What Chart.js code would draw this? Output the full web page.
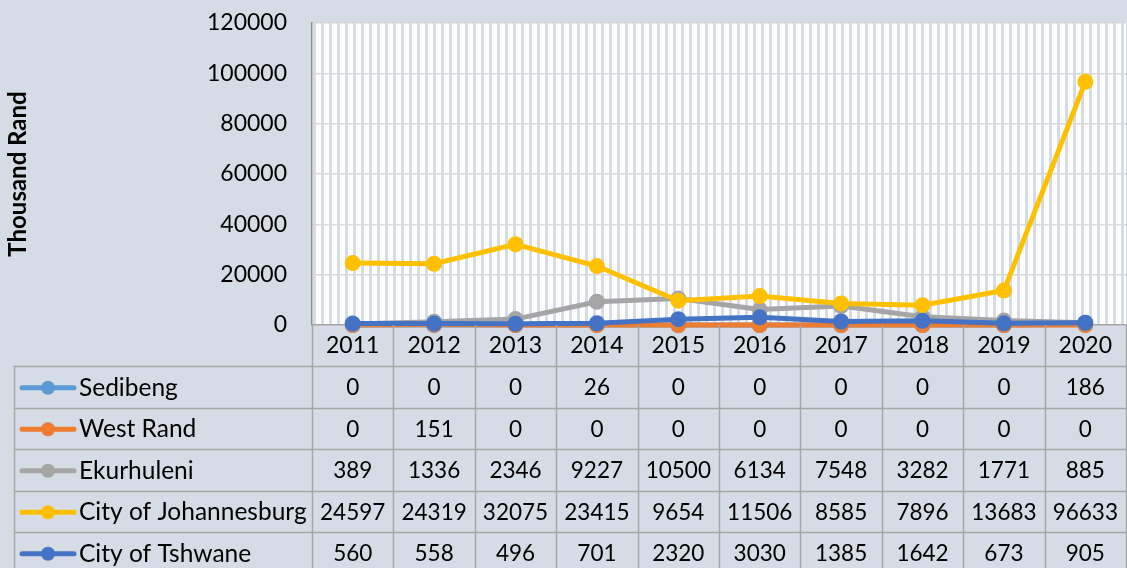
<!DOCTYPE html>
<html lang="en">
<head>
    <meta charset="UTF-8">
    <meta name="viewport" content="width=device-width, initial-scale=1.0">
    <title>Thousand Rand by Municipality, 2011-2020</title>
    <style>
        html, body {
            margin: 0;
            padding: 0;
            background: #D6DCE5;
            overflow: hidden;
        }
        #myChart {
            display: block;
        }
    </style>
    <script src="https://cdn.jsdelivr.net/npm/chart.js"></script>
</head>
<body>
    <canvas id="myChart" width="1134" height="568"></canvas>
    <script>
        var years = ['2011', '2012', '2013', '2014', '2015', '2016', '2017', '2018', '2019', '2020'];
        var sedibeng = [0, 0, 0, 26, 0, 0, 0, 0, 0, 186];
        var westRand = [0, 151, 0, 0, 0, 0, 0, 0, 0, 0];
        var ekurhuleni = [389, 1336, 2346, 9227, 10500, 6134, 7548, 3282, 1771, 885];
        var johannesburg = [24597, 24319, 32075, 23415, 9654, 11506, 8585, 7896, 13683, 96633];
        var tshwane = [560, 558, 496, 701, 2320, 3030, 1385, 1642, 673, 905];
        var yTicks = [0, 20000, 40000, 60000, 80000, 100000, 120000];

        var seriesNames = ['Sedibeng', 'West Rand', 'Ekurhuleni', 'City of Johannesburg', 'City of Tshwane'];
        var seriesValues = [sedibeng, westRand, ekurhuleni, johannesburg, tshwane];
        var seriesColors = ['#5B9BD5', '#ED7D31', '#A5A5A5', '#FFC000', '#4472C4'];

        var FONT = 'Lato';
        var BG = '#D6DCE5';
        var LINE = '#A6A6A6';

        // vertical stripe fill of the plot area (Excel pattern fill)
        function makeStripes(ctx) {
            var c = document.createElement('canvas');
            c.width = 8;
            c.height = 8;
            var p = c.getContext('2d');
            p.fillStyle = '#ffffff';
            p.fillRect(0, 0, 8, 8);
            p.fillStyle = BG;
            p.fillRect(1, 0, 3, 8);
            return ctx.createPattern(c, 'repeat');
        }

        var stripes = {
            id: 'stripes',
            beforeDraw: function(chart) {
                var a = chart.chartArea, ctx = chart.ctx;
                ctx.save();
                ctx.fillStyle = makeStripes(ctx);
                ctx.fillRect(a.left, a.top, a.right - a.left, a.bottom - a.top);
                ctx.restore();
            }
        };

        // data table under the plot, columns follow the x scale
        var dataTable = {
            id: 'dataTable',
            afterDraw: function(chart) {
                var ctx = chart.ctx, xs = chart.scales.x, a = chart.chartArea;
                var colW = xs.getPixelForValue(1) - xs.getPixelForValue(0);
                var headTop = a.bottom;
                var bodyTop = headTop + 41;
                var rowH = 41.5;
                var tableLeft = 14;
                var bottom = chart.height;

                ctx.save();
                ctx.strokeStyle = LINE;
                ctx.lineWidth = 1.5;

                // column lines
                for (var i = 0; i <= years.length; i++) {
                    var cx = Math.round(a.left + i * colW) + 0.5;
                    ctx.beginPath();
                    ctx.moveTo(cx, headTop);
                    ctx.lineTo(cx, bottom);
                    ctx.stroke();
                }
                ctx.beginPath();
                ctx.moveTo(tableLeft + 0.5, bodyTop);
                ctx.lineTo(tableLeft + 0.5, bottom);
                ctx.stroke();

                // row lines
                for (var r = 0; r <= seriesNames.length; r++) {
                    var ry = Math.round(bodyTop + r * rowH) + 0.5;
                    ctx.beginPath();
                    ctx.moveTo(tableLeft, ry);
                    ctx.lineTo(chart.width, ry);
                    ctx.stroke();
                }

                ctx.fillStyle = '#000';
                ctx.font = '23px ' + FONT;
                ctx.textBaseline = 'middle';
                ctx.textAlign = 'center';
                years.forEach(function(y, i) {
                    ctx.fillText(y, xs.getPixelForValue(i), headTop + 21);
                });

                seriesNames.forEach(function(name, r) {
                    var cy = bodyTop + r * rowH + rowH / 2 + 1;
                    // legend key
                    ctx.strokeStyle = seriesColors[r];
                    ctx.lineWidth = 5;
                    ctx.lineCap = 'round';
                    ctx.beginPath();
                    ctx.moveTo(22, cy);
                    ctx.lineTo(74, cy);
                    ctx.stroke();
                    ctx.fillStyle = seriesColors[r];
                    ctx.beginPath();
                    ctx.arc(48, cy, 7, 0, Math.PI * 2);
                    ctx.fill();

                    ctx.fillStyle = '#000';
                    ctx.textAlign = 'left';
                    ctx.font = '24.5px ' + FONT;
                    ctx.fillText(name, 79, cy);
                    ctx.textAlign = 'center';
                    ctx.font = '22.5px ' + FONT;
                    seriesValues[r].forEach(function(v, i) {
                        ctx.fillText(String(v), xs.getPixelForValue(i), cy);
                    });
                });
                ctx.restore();
            }
        };

        var datasets = seriesNames.map(function(name, i) {
            return {
                label: name,
                data: seriesValues[i],
                borderColor: seriesColors[i],
                backgroundColor: seriesColors[i],
                borderWidth: 5,
                pointRadius: 8,
                pointBorderWidth: 0,
                tension: 0,
                clip: false,
                order: seriesNames.length - i
            };
        });

        var ctx = document.getElementById('myChart').getContext('2d');
        var myChart = new Chart(ctx, {
            type: 'line',
            data: {
                labels: years,
                datasets: datasets
            },
            options: {
                responsive: false,
                animation: false,
                layout: {
                    padding: { top: 23, bottom: 243, left: 0, right: 2 }
                },
                plugins: {
                    legend: { display: false },
                    tooltip: { enabled: false }
                },
                scales: {
                    x: {
                        display: false,
                        offset: true
                    },
                    y: {
                        min: yTicks[0],
                        max: yTicks[yTicks.length - 1],
                        afterBuildTicks: function(scale) {
                            scale.ticks = yTicks.map(function(v) { return { value: v }; });
                        },
                        afterFit: function(scale) {
                            scale.width = 312;
                            scale.paddingTop = 0;
                            scale.paddingBottom = 0;
                        },
                        ticks: {
                            padding: 25,
                            color: '#000',
                            font: { family: FONT, size: 23 },
                            callback: function(value) { return String(value); }
                        },
                        grid: {
                            drawTicks: false,
                            lineWidth: 1.5,
                            color: function(c) { return c.tick && c.tick.value === 0 ? LINE : '#D9D9D9'; }
                        },
                        border: { color: '#8C8C8C', width: 1.5 },
                        title: {
                            display: true,
                            text: 'Thousand Rand',
                            color: '#000',
                            font: { family: FONT, size: 24, weight: 'bold' },
                            padding: { top: 4, bottom: 0 }
                        }
                    }
                }
            },
            plugins: [stripes, dataTable]
        });
    </script>
</body>
</html>
